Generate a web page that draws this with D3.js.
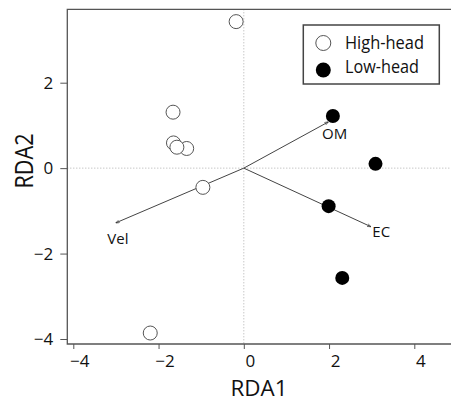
<!DOCTYPE html>
<html>
<head>
<meta charset="utf-8">
<script src="https://cdn.jsdelivr.net/npm/d3@7"></script>
<style>
  html, body { margin: 0; padding: 0; background: #fff; }
  svg { display: block; font-family: "Open Sans", "Noto Sans", sans-serif; }
</style>
</head>
<body>
<svg id="chart" width="451" height="402"></svg>
<script>
// ---- data ----
const highX = [-0.18, -1.66, -1.65, -1.34, -1.57, -0.96, -2.195];
const highY = [3.43, 1.31, 0.59, 0.46, 0.49, -0.45, -3.86];
const lowX = [2.09, 3.09, 1.99, 2.31];
const lowY = [1.22, 0.10, -0.89, -2.57];
const vecNames = ["OM", "Vel", "EC"];
const vecX = [1.98, -3.00, 2.98];
const vecY = [1.08, -1.28, -1.37];
const xTicks = [-4, -2, 0, 2, 4];
const yTicks = [-4, -2, 0, 2];
const legendLabels = ["High-head", "Low-head"];
const xTitle = "RDA1";
const yTitle = "RDA2";

// ---- layout ----
const svg = d3.select("#chart");
const frame = { left: 67.3, top: 9.3, bottom: 344, right: 451 };
const x = d3.scaleLinear().domain([-4, 4]).range([73.3, 414.3]);
const y = d3.scaleLinear().domain([-4, 2]).range([339, 82.7]);
const axisColor = "#555";

// dotted reference lines
svg.append("line")
  .attr("x1", x(0)).attr("x2", x(0))
  .attr("y1", frame.top).attr("y2", frame.bottom)
  .attr("stroke", "#9a9a9a").attr("stroke-width", 0.8)
  .attr("stroke-dasharray", "1,2");
svg.append("line")
  .attr("x1", frame.left).attr("x2", frame.right)
  .attr("y1", y(0)).attr("y2", y(0))
  .attr("stroke", "#9a9a9a").attr("stroke-width", 0.8)
  .attr("stroke-dasharray", "1,2");

// frame lines (top, left, bottom)
svg.append("path")
  .attr("d", `M${frame.right},${frame.top}H${frame.left}V${frame.bottom}H${frame.right}`)
  .attr("fill", "none").attr("stroke", axisColor).attr("stroke-width", 1.3);

// axes
const fmt = d3.format("");
const gx = svg.append("g").attr("transform", `translate(0,${frame.bottom})`)
  .call(d3.axisBottom(x).tickValues(xTicks).tickFormat(d => fmt(d)).tickSize(5).tickPadding(6));
gx.select(".domain").remove();
gx.selectAll(".tick line").attr("stroke", axisColor);
gx.selectAll(".tick text").attr("font-family", "Open Sans").attr("font-size", 17)
  .attr("fill", "#111").attr("dx", 6);

const gy = svg.append("g").attr("transform", `translate(${frame.left},0)`)
  .call(d3.axisLeft(y).tickValues(yTicks).tickFormat(d => fmt(d)).tickSize(7).tickPadding(7));
gy.select(".domain").remove();
gy.selectAll(".tick line").attr("stroke", axisColor);
gy.selectAll(".tick text").attr("font-family", "Open Sans").attr("font-size", 17)
  .attr("fill", "#111");

// axis titles
svg.append("text")
  .attr("x", 259).attr("y", 396)
  .attr("text-anchor", "middle")
  .attr("font-size", 22).attr("fill", "#111")
  .attr("textLength", 57).attr("lengthAdjust", "spacingAndGlyphs")
  .text(xTitle);
svg.append("text")
  .attr("transform", "translate(32.5,161) rotate(-90)")
  .attr("text-anchor", "middle")
  .attr("font-size", 25).attr("fill", "#111")
  .attr("textLength", 55).attr("lengthAdjust", "spacingAndGlyphs")
  .text(yTitle);

// biplot arrows
const defs = svg.append("defs");
defs.append("marker")
  .attr("id", "arr").attr("viewBox", "0 0 10 10")
  .attr("refX", 9).attr("refY", 5)
  .attr("markerWidth", 4).attr("markerHeight", 4)
  .attr("orient", "auto")
  .append("path").attr("d", "M0,1.5L10,5L0,8.5").attr("fill", "none")
  .attr("stroke", "#333").attr("stroke-width", 1.6);

const vecs = vecNames.map((n, i) => ({ name: n, x: vecX[i], y: vecY[i] }));
svg.append("g").selectAll("line").data(vecs).join("line")
  .attr("x1", x(0)).attr("y1", y(0))
  .attr("x2", d => x(d.x)).attr("y2", d => y(d.y))
  .attr("stroke", "#444").attr("stroke-width", 1)
  .attr("marker-end", "url(#arr)");

const labelStyle = {
  OM: { dx: 6.5, dy: 17.5, anchor: "middle" },
  Vel: { dx: 2, dy: 21, anchor: "middle" },
  EC: { dx: 1.5, dy: 10, anchor: "start" }
};
svg.append("g").selectAll("text").data(vecs).join("text")
  .attr("x", d => x(d.x) + labelStyle[d.name].dx)
  .attr("y", d => y(d.y) + labelStyle[d.name].dy)
  .attr("text-anchor", d => labelStyle[d.name].anchor)
  .attr("font-size", 15).attr("fill", "#111")
  .text(d => d.name);

// points
const highPts = highX.map((v, i) => ({ x: v, y: highY[i] }));
svg.append("g").selectAll("circle").data(highPts).join("circle")
  .attr("cx", d => x(d.x)).attr("cy", d => y(d.y)).attr("r", 7)
  .attr("fill", "#fff").attr("stroke", "#555").attr("stroke-width", 1);
const lowPts = lowX.map((v, i) => ({ x: v, y: lowY[i] }));
svg.append("g").selectAll("circle").data(lowPts).join("circle")
  .attr("cx", d => x(d.x)).attr("cy", d => y(d.y)).attr("r", 7)
  .attr("fill", "#000");

// legend
const lg = svg.append("g");
lg.append("rect")
  .attr("x", 303.3).attr("y", 25).attr("width", 136).attr("height", 59)
  .attr("fill", "#fff").attr("stroke", "#444").attr("stroke-width", 1.5);
const legendStyle = [
  { cy: 43, base: 49.3, fill: "#fff", stroke: "#555", len: 79 },
  { cy: 70, base: 73.3, fill: "#000", stroke: "none", len: 74 }
];
legendLabels.forEach((lab, i) => {
  const s = legendStyle[i];
  lg.append("circle").attr("cx", 323.3).attr("cy", s.cy).attr("r", 7.5)
    .attr("fill", s.fill).attr("stroke", s.stroke).attr("stroke-width", 1);
  lg.append("text").attr("x", 345).attr("y", s.base)
    .attr("font-size", 19).attr("fill", "#111")
    .attr("textLength", s.len).attr("lengthAdjust", "spacingAndGlyphs")
    .text(lab);
});
</script>
</body>
</html>
